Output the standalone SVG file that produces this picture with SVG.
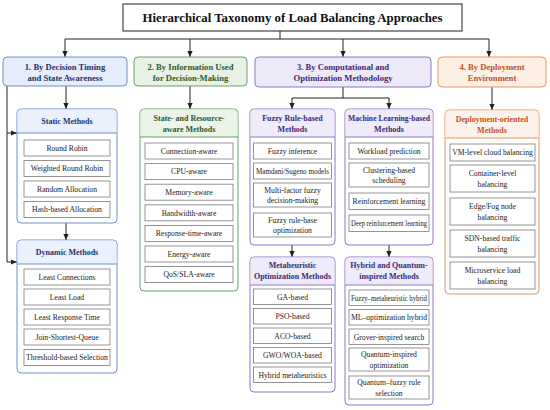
<svg xmlns="http://www.w3.org/2000/svg" width="550" height="410" viewBox="0 0 550 410">
<defs>
<marker id="ah" markerWidth="6" markerHeight="6" refX="6" refY="3" orient="auto" markerUnits="userSpaceOnUse"><path d="M0,0.4 L6,3 L0,5.6 z" fill="#222"/></marker>
</defs>
<style>
text{font-family:"Liberation Serif","Times New Roman",serif;text-anchor:middle}
.title{font-size:12.8px;font-weight:bold;fill:#111}
.top{font-size:8.6px;font-weight:bold}
.hd{font-size:8px;font-weight:bold}
.it{font-size:7.7px;fill:#222}
.item{fill:#fff;stroke:#7a7a7a;stroke-width:0.8}
.conn path{fill:none;stroke:#222;stroke-width:1}
.conn .a{marker-end:url(#ah)}
.blue .frame{stroke:#6f90cc}.blue .hdbg{fill:#eaf0fc}.blue text.c{fill:#1d3370}
.green .frame{stroke:#6f9f6f}.green .hdbg{fill:#ebf4e8}.green text.c{fill:#2c5b2c}
.purple .frame{stroke:#8a78c6}.purple .hdbg{fill:#efebf9}.purple text.c{fill:#3a2a78}
.orange .frame{stroke:#e8955e}.orange .hdbg{fill:#fdf2ea}.orange text.c{fill:#c0521e}
.frame{stroke-width:1}
.sub{fill:#fff}
</style>
<rect width="550" height="410" fill="#fff"/>

<g id="title">
<rect x="123" y="4" width="339" height="27" fill="#fff" stroke="#444" stroke-width="1.2"/>
<text class="title" x="292.5" y="22">Hierarchical Taxonomy of Load Balancing Approaches</text>
</g>

<g class="conn" id="connectors">
<path d="M280,31 V39 M65,39 H489"/>
<path class="a" d="M65,39 V57"/>
<path class="a" d="M190,39 V57"/>
<path class="a" d="M343,39 V57"/>
<path class="a" d="M489,39 V57"/>
<path class="a" d="M66,86 V109"/>
<path class="a" d="M66,223 V240"/>
<path class="a" d="M7,86 V262 H17"/>
<path class="a" d="M7,133 H17"/>
<path class="a" d="M190,86 V109"/>
<path d="M343,87 V98 M292,98 H389"/>
<path class="a" d="M292,98 V109"/>
<path class="a" d="M389,98 V109"/>
<path class="a" d="M292,245 V257"/>
<path class="a" d="M389,245 V257"/>
<path class="a" d="M492,87 V110"/>
</g>

<!-- Column 1 -->
<g id="cat1" class="blue">
<rect class="frame" x="3" y="57" width="124" height="29" rx="4" fill="#e5ecfa"/>
<text class="top c" x="65" y="70">1. By Decision Timing</text>
<text class="top c" x="65" y="81">and State Awareness</text>
</g>
<g id="static" class="blue">
<rect class="frame sub" x="17" y="109" width="100" height="114" rx="4"/>
<path class="hdbg" d="M17.5,133 V113 a3.5,3.5 0 0 1 3.5,-3.5 H113 a3.5,3.5 0 0 1 3.5,3.5 V133 Z"/>
<path class="frame" d="M17,133 H117" fill="none"/>
<text class="hd c" x="67" y="124">Static Methods</text>
<rect class="item" x="24" y="140" width="86" height="16"/><text class="it" x="67" y="150.7">Round Robin</text>
<rect class="item" x="24" y="160.5" width="86" height="16"/><text class="it" x="67" y="171.2">Weighted Round Robin</text>
<rect class="item" x="24" y="181" width="86" height="16"/><text class="it" x="67" y="191.7">Random Allocation</text>
<rect class="item" x="24" y="201.5" width="86" height="16"/><text class="it" x="67" y="212.2">Hash-based Allocation</text>
</g>
<g id="dynamic" class="blue">
<rect class="frame sub" x="17" y="240" width="100" height="133" rx="4"/>
<path class="hdbg" d="M17.5,264 V244 a3.5,3.5 0 0 1 3.5,-3.5 H113 a3.5,3.5 0 0 1 3.5,3.5 V264 Z"/>
<path class="frame" d="M17,264 H117" fill="none"/>
<text class="hd c" x="67" y="255">Dynamic Methods</text>
<rect class="item" x="24" y="269" width="86" height="16"/><text class="it" x="67" y="279.7">Least Connections</text>
<rect class="item" x="24" y="289" width="86" height="16"/><text class="it" x="67" y="299.7">Least Load</text>
<rect class="item" x="24" y="309" width="86" height="16"/><text class="it" x="67" y="319.7">Least Response Time</text>
<rect class="item" x="24" y="329" width="86" height="16"/><text class="it" x="67" y="339.7">Join-Shortest-Queue</text>
<rect class="item" x="24" y="349.5" width="86" height="16"/><text class="it" x="67" y="360.2">Threshold-based Selection</text>
</g>

<!-- Column 2 -->
<g id="cat2" class="green">
<rect class="frame" x="134" y="57" width="113" height="29" rx="4" fill="#e8f2e4"/>
<text class="top c" x="190.5" y="70">2. By Information Used</text>
<text class="top c" x="190.5" y="81">for Decision-Making</text>
</g>
<g id="stateaware" class="green">
<rect class="frame sub" x="140" y="109" width="98" height="182" rx="4"/>
<path class="hdbg" d="M140.5,137 V113 a3.5,3.5 0 0 1 3.5,-3.5 H234 a3.5,3.5 0 0 1 3.5,3.5 V137 Z"/>
<path class="frame" d="M140,137 H238" fill="none"/>
<text class="hd c" x="189" y="120.8">State- and Resource-</text>
<text class="hd c" x="189" y="131.8">aware Methods</text>
<rect class="item" x="145" y="143" width="88" height="16"/><text class="it" x="189" y="153.7">Connection-aware</text>
<rect class="item" x="145" y="163.6" width="88" height="16"/><text class="it" x="189" y="174.3">CPU-aware</text>
<rect class="item" x="145" y="184.2" width="88" height="16"/><text class="it" x="189" y="194.9">Memory-aware</text>
<rect class="item" x="145" y="204.8" width="88" height="16"/><text class="it" x="189" y="215.5">Bandwidth-aware</text>
<rect class="item" x="145" y="225.4" width="88" height="16"/><text class="it" x="189" y="236.1">Response-time-aware</text>
<rect class="item" x="145" y="246" width="88" height="16"/><text class="it" x="189" y="256.7">Energy-aware</text>
<rect class="item" x="145" y="266.6" width="88" height="16"/><text class="it" x="189" y="277.3">QoS/SLA-aware</text>
</g>

<!-- Column 3 -->
<g id="cat3" class="purple">
<rect class="frame" x="255" y="57" width="176" height="30" rx="4" fill="#ede9f8"/>
<text class="top c" x="343" y="70">3. By Computational and</text>
<text class="top c" x="343" y="81">Optimization Methodology</text>
</g>
<g id="fuzzy" class="purple">
<rect class="frame sub" x="250" y="109" width="85" height="136" rx="4"/>
<path class="hdbg" d="M250.5,137 V113 a3.5,3.5 0 0 1 3.5,-3.5 H331 a3.5,3.5 0 0 1 3.5,3.5 V137 Z"/>
<path class="frame" d="M250,137 H335" fill="none"/>
<text class="hd c" x="292.5" y="120.8">Fuzzy Rule-based</text>
<text class="hd c" x="292.5" y="131.8">Methods</text>
<rect class="item" x="253.5" y="143" width="78" height="16"/><text class="it" x="292.5" y="153.7">Fuzzy inference</text>
<rect class="item" x="253.5" y="163" width="78" height="16"/><text class="it" x="292.5" y="173.7" textLength="73" lengthAdjust="spacingAndGlyphs">Mamdani/Sugeno models</text>
<rect class="item" x="253.5" y="183" width="78" height="24"/><text class="it" x="292.5" y="192.7">Multi-factor fuzzy</text><text class="it" x="292.5" y="203.2">decision-making</text>
<rect class="item" x="253.5" y="213" width="78" height="24"/><text class="it" x="292.5" y="222.7">Fuzzy rule-base</text><text class="it" x="292.5" y="233.2">optimization</text>
</g>
<g id="meta" class="purple">
<rect class="frame sub" x="250" y="257" width="85" height="135" rx="4"/>
<path class="hdbg" d="M250.5,285 V261 a3.5,3.5 0 0 1 3.5,-3.5 H331 a3.5,3.5 0 0 1 3.5,3.5 V285 Z"/>
<path class="frame" d="M250,285 H335" fill="none"/>
<text class="hd c" x="292.5" y="268.3">Metaheuristic</text>
<text class="hd c" x="292.5" y="279.3">Optimization Methods</text>
<rect class="item" x="253.5" y="289" width="78" height="15.5"/><text class="it" x="292.5" y="299.5">GA-based</text>
<rect class="item" x="253.5" y="308.5" width="78" height="15.5"/><text class="it" x="292.5" y="319">PSO-based</text>
<rect class="item" x="253.5" y="328" width="78" height="15.5"/><text class="it" x="292.5" y="338.5">ACO-based</text>
<rect class="item" x="253.5" y="347.5" width="78" height="15.5"/><text class="it" x="292.5" y="358">GWO/WOA-based</text>
<rect class="item" x="253.5" y="367" width="78" height="15.5"/><text class="it" x="292.5" y="377.5">Hybrid metaheuristics</text>
</g>
<g id="ml" class="purple">
<rect class="frame sub" x="345" y="109" width="88" height="136" rx="4"/>
<path class="hdbg" d="M345.5,137 V113 a3.5,3.5 0 0 1 3.5,-3.5 H429 a3.5,3.5 0 0 1 3.5,3.5 V137 Z"/>
<path class="frame" d="M345,137 H433" fill="none"/>
<text class="hd c" x="389" y="120.8" textLength="82" lengthAdjust="spacingAndGlyphs">Machine Learning-based</text>
<text class="hd c" x="389" y="131.8">Methods</text>
<rect class="item" x="349" y="143" width="80" height="16"/><text class="it" x="389" y="153.7">Workload prediction</text>
<rect class="item" x="349" y="163" width="80" height="24"/><text class="it" x="389" y="172.7">Clustering-based</text><text class="it" x="389" y="183.2">scheduling</text>
<rect class="item" x="349" y="193" width="80" height="16.5"/><text class="it" x="389" y="204">Reinforcement learning</text>
<rect class="item" x="349" y="215" width="80" height="16.5"/><text class="it" x="389" y="226" textLength="76" lengthAdjust="spacingAndGlyphs">Deep reinforcement learning</text>
</g>
<g id="hybrid" class="purple">
<rect class="frame sub" x="345" y="257" width="88" height="148" rx="4"/>
<path class="hdbg" d="M345.5,285 V261 a3.5,3.5 0 0 1 3.5,-3.5 H429 a3.5,3.5 0 0 1 3.5,3.5 V285 Z"/>
<path class="frame" d="M345,285 H433" fill="none"/>
<text class="hd c" x="389" y="268.3">Hybrid and Quantum-</text>
<text class="hd c" x="389" y="279.3">inspired Methods</text>
<rect class="item" x="349" y="290" width="80" height="15.5"/><text class="it" x="389" y="300.5" textLength="76" lengthAdjust="spacingAndGlyphs">Fuzzy–metaheuristic hybrid</text>
<rect class="item" x="349" y="309.5" width="80" height="15.5"/><text class="it" x="389" y="320">ML–optimization hybrid</text>
<rect class="item" x="349" y="329" width="80" height="15.5"/><text class="it" x="389" y="339.5">Grover-inspired search</text>
<rect class="item" x="349" y="348" width="80" height="23"/><text class="it" x="389" y="357.3">Quantum-inspired</text><text class="it" x="389" y="367.8">optimization</text>
<rect class="item" x="349" y="376" width="80" height="23"/><text class="it" x="389" y="385.3">Quantum–fuzzy rule</text><text class="it" x="389" y="395.8">selection</text>
</g>

<!-- Column 4 -->
<g id="cat4" class="orange">
<rect class="frame" x="438" y="57" width="108" height="30" rx="4" fill="#fdefe4"/>
<text class="top c" x="492" y="70">4. By Deployment</text>
<text class="top c" x="492" y="81">Environment</text>
</g>
<g id="deploy" class="orange">
<rect class="frame sub" x="445" y="110" width="94" height="184" rx="4"/>
<path class="hdbg" d="M445.5,138 V114 a3.5,3.5 0 0 1 3.5,-3.5 H535 a3.5,3.5 0 0 1 3.5,3.5 V138 Z"/>
<path class="frame" d="M445,138 H539" fill="none"/>
<text class="hd c" x="492" y="121.8">Deployment-oriented</text>
<text class="hd c" x="492" y="132.8">Methods</text>
<rect class="item" x="450" y="144" width="85" height="17"/><text class="it" x="492.5" y="155.2">VM-level cloud balancing</text>
<rect class="item" x="450" y="165" width="85" height="27"/><text class="it" x="492.5" y="176.2">Container-level</text><text class="it" x="492.5" y="186.7">balancing</text>
<rect class="item" x="450" y="198" width="85" height="27"/><text class="it" x="492.5" y="209.2">Edge/Fog node</text><text class="it" x="492.5" y="219.7">balancing</text>
<rect class="item" x="450" y="230" width="85" height="27"/><text class="it" x="492.5" y="241.2">SDN-based traffic</text><text class="it" x="492.5" y="251.7">balancing</text>
<rect class="item" x="450" y="262" width="85" height="27"/><text class="it" x="492.5" y="273.2">Microservice load</text><text class="it" x="492.5" y="283.7">balancing</text>
</g>
</svg>
